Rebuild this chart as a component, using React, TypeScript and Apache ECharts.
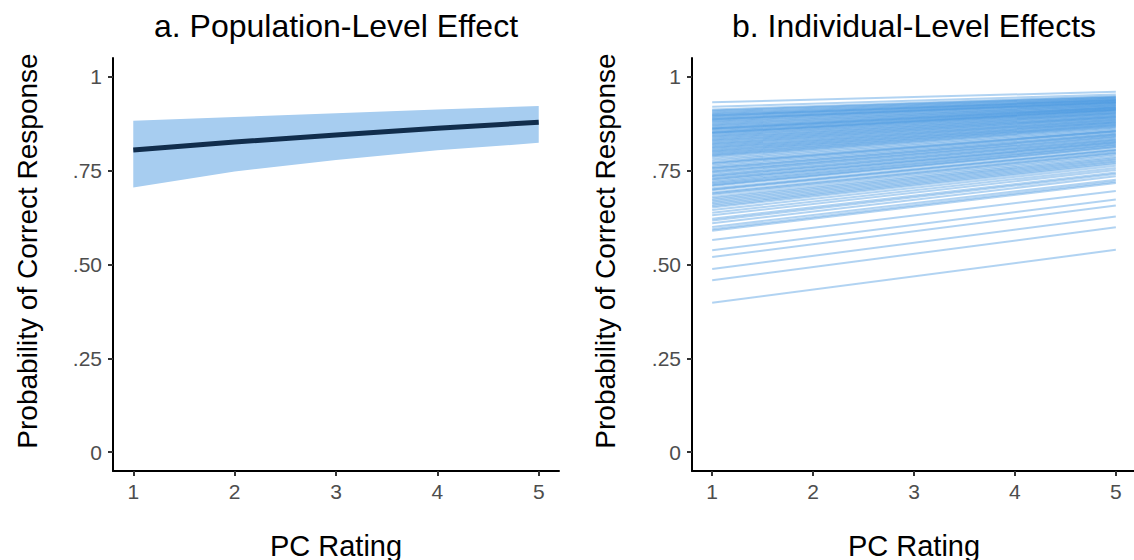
import React, { useEffect, useRef } from "react";
import * as echarts from "echarts";

// Axis ticks shared by both panels
const xTicks = [1, 2, 3, 4, 5];
const yTicks = [0, 0.25, 0.5, 0.75, 1];
const yTickLabels = ["0", ".25", ".50", ".75", "1"];

// Panel a: population-level fit with its interval
const popX = [1, 2, 3, 4, 5];
const popMean = [0.805, 0.826, 0.845, 0.863, 0.879];
const popLower = [0.705, 0.748, 0.778, 0.804, 0.824];
const popUpper = [0.883, 0.893, 0.903, 0.913, 0.922];

// Panel b: one fitted line per participant (value at rating 1 and at rating 5)
const indivStart = [
  0.398, 0.458, 0.488, 0.52, 0.538, 0.565, 0.59, 0.594, 0.6, 0.61, 0.617, 0.622, 0.631, 0.638, 0.645,
  0.652, 0.656, 0.66, 0.664, 0.668, 0.672, 0.676, 0.68, 0.686, 0.689, 0.692, 0.698, 0.7, 0.703, 0.709,
  0.711, 0.714, 0.717, 0.72, 0.724, 0.727, 0.729, 0.733, 0.736, 0.738, 0.742, 0.746, 0.748, 0.751, 0.755,
  0.757, 0.76, 0.764, 0.768, 0.77, 0.772, 0.776, 0.78, 0.784, 0.788, 0.79, 0.793, 0.795, 0.798, 0.8,
  0.803, 0.805, 0.808, 0.81, 0.813, 0.815, 0.818, 0.82, 0.823, 0.825, 0.828, 0.83, 0.833, 0.835, 0.838,
  0.84, 0.843, 0.845, 0.848, 0.85, 0.851, 0.853, 0.855, 0.858, 0.86, 0.862, 0.863, 0.865, 0.868, 0.87,
  0.873, 0.875, 0.878, 0.88, 0.883, 0.885, 0.887, 0.888, 0.89, 0.893, 0.895, 0.897, 0.898, 0.9, 0.903,
  0.905, 0.908, 0.91, 0.913, 0.92, 0.932,
];
const indivEnd = [
  0.539, 0.599, 0.628, 0.657, 0.673, 0.696, 0.717, 0.721, 0.726, 0.735, 0.741, 0.745, 0.752, 0.757, 0.763,
  0.768, 0.771, 0.774, 0.777, 0.78, 0.783, 0.786, 0.79, 0.794, 0.797, 0.799, 0.803, 0.805, 0.807, 0.812,
  0.813, 0.816, 0.818, 0.82, 0.823, 0.825, 0.826, 0.829, 0.831, 0.833, 0.835, 0.838, 0.84, 0.842, 0.845,
  0.846, 0.848, 0.851, 0.854, 0.855, 0.856, 0.859, 0.862, 0.865, 0.867, 0.869, 0.871, 0.872, 0.874, 0.876,
  0.878, 0.879, 0.881, 0.883, 0.885, 0.886, 0.888, 0.89, 0.892, 0.893, 0.895, 0.896, 0.898, 0.9, 0.902,
  0.903, 0.905, 0.906, 0.908, 0.91, 0.911, 0.912, 0.913, 0.914, 0.916, 0.917, 0.918, 0.919, 0.921, 0.922,
  0.924, 0.925, 0.927, 0.928, 0.93, 0.931, 0.932, 0.933, 0.934, 0.936, 0.937, 0.938, 0.939, 0.941, 0.942,
  0.944, 0.945, 0.947, 0.948, 0.953, 0.96,
];

const FONT = "'Liberation Sans', Arial, Helvetica, sans-serif";
const Y_NAME = "Probability of Correct Response";

function yLabel(v: number): string {
  const i = yTicks.findIndex((t) => Math.abs(t - v) < 1e-6);
  return i >= 0 ? yTickLabels[i] : "";
}

function makeXAxis(gridIndex: number) {
  return {
    type: "value",
    gridIndex,
    min: 0.8,
    max: 5.2,
    name: "PC Rating",
    nameLocation: "middle",
    nameGap: 60,
    nameTextStyle: { fontSize: 29, color: "#000", fontFamily: FONT },
    axisLine: { show: true, onZero: false, lineStyle: { color: "#000", width: 2 } },
    axisTick: { show: true, customValues: xTicks, length: 5, lineStyle: { color: "#333", width: 2 } },
    axisLabel: { customValues: xTicks, color: "#4d4d4d", fontSize: 21, fontFamily: FONT, margin: 10 },
    splitLine: { show: false },
  };
}

function makeYAxis(gridIndex: number) {
  return {
    type: "value",
    gridIndex,
    min: -0.05,
    max: 1.05,
    axisLine: { show: true, onZero: false, lineStyle: { color: "#000", width: 2 } },
    axisTick: { show: true, customValues: yTicks, length: 5, lineStyle: { color: "#333", width: 2 } },
    axisLabel: {
      customValues: yTicks,
      color: "#4d4d4d",
      fontSize: 21,
      fontFamily: FONT,
      margin: 11,
      formatter: (v: number) => yLabel(v),
    },
    splitLine: { show: false },
  };
}

function yName(x: number) {
  return {
    type: "text",
    x,
    y: 251,
    rotation: Math.PI / 2,
    style: {
      text: Y_NAME,
      fontSize: 28,
      fontFamily: FONT,
      fill: "#000",
      align: "center",
      verticalAlign: "middle",
    },
  };
}

export default function App() {
  const ref = useRef<HTMLDivElement>(null);

  useEffect(() => {
    if (!ref.current) return;
    const chart = echarts.init(ref.current, undefined, { renderer: "svg" });

    const individualSeries = indivStart.map((s, i) => ({
      type: "line",
      xAxisIndex: 1,
      yAxisIndex: 1,
      data: [
        [1, s],
        [5, indivEnd[i]],
      ],
      showSymbol: false,
      silent: true,
      lineStyle: { color: "#4596e0", width: 2, opacity: 0.42 },
      z: 2,
    }));

    chart.setOption({
      animation: false,
      backgroundColor: "#ffffff",
      textStyle: { fontFamily: FONT },
      title: [
        {
          text: "a. Population-Level Effect",
          left: 336,
          top: 10,
          padding: 0,
          textAlign: "center",
          textStyle: { fontSize: 32, fontWeight: "normal", color: "#000", fontFamily: FONT },
        },
        {
          text: "b. Individual-Level Effects",
          left: 914,
          top: 10,
          padding: 0,
          textAlign: "center",
          textStyle: { fontSize: 32, fontWeight: "normal", color: "#000", fontFamily: FONT },
        },
      ],
      graphic: [yName(27), yName(605)],
      grid: [
        { left: 113, top: 58, width: 446, height: 413, outerBoundsMode: "none", containLabel: false },
        { left: 692, top: 58, width: 444, height: 413, outerBoundsMode: "none", containLabel: false },
      ],
      xAxis: [makeXAxis(0), makeXAxis(1)],
      yAxis: [makeYAxis(0), makeYAxis(1)],
      series: [
        {
          // interval ribbon drawn as one polygon through the upper and lower bounds
          type: "custom",
          xAxisIndex: 0,
          yAxisIndex: 0,
          silent: true,
          data: popX.map((x, i) => [x, popLower[i], popUpper[i]]),
          encode: { x: 0, y: [1, 2] },
          renderItem: (params: any, api: any) => {
            if (params.dataIndex !== 0) return null;
            const upper = popX.map((x, i) => api.coord([x, popUpper[i]]));
            const lower = popX.map((x, i) => api.coord([x, popLower[i]])).reverse();
            return {
              type: "polygon",
              shape: { points: upper.concat(lower) },
              style: { fill: "#a7cdf0" },
            };
          },
          z: 1,
        },
        {
          type: "line",
          xAxisIndex: 0,
          yAxisIndex: 0,
          data: popX.map((x, i) => [x, popMean[i]]),
          showSymbol: false,
          silent: true,
          lineStyle: { color: "#112d4c", width: 5 },
          z: 3,
        },
        ...individualSeries,
      ],
    });

    return () => chart.dispose();
  }, []);

  return (
    <div
      ref={ref}
      style={{ position: "fixed", left: 0, top: 0, width: 1134, height: 560, background: "#fff" }}
    />
  );
}
